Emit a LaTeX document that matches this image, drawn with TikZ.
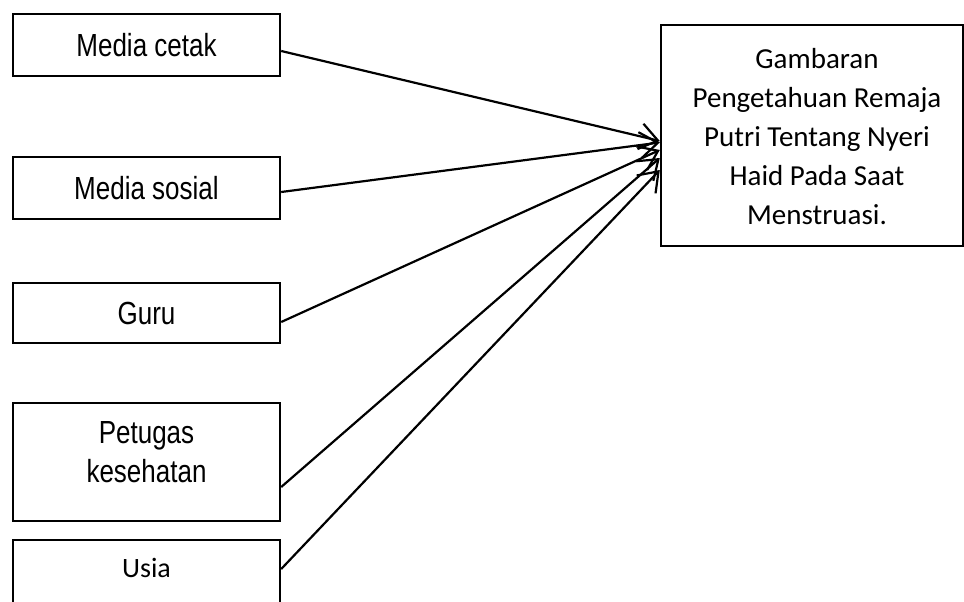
\documentclass[tikz,border=0pt]{standalone}
\usepackage{fontspec}
\setmainfont{Liberation Sans}
\newfontfamily\calib{Carlito}
\usetikzlibrary{arrows.meta}
\newcommand{\arialtall}[1]{\scalebox{1}[1.23]{#1}}
\begin{document}
\begin{tikzpicture}[x=1pt,y=-1pt,
  box/.style={draw, line width=2.4pt, rectangle, minimum width=267pt, inner sep=0pt},
  atxt/.style={font=\fontsize{26}{32.5}\selectfont, align=center, inner sep=0pt},
  ctxt/.style={font=\calib\fontsize{29}{39}\selectfont, align=center, inner sep=0pt},
  conn/.style={line width=2.2pt, -{Straight Barb[length=18pt,width=26pt]}}]
\useasboundingbox (0,0) rectangle (964,602);
\clip (0,0) rectangle (964,602);

\node[box, minimum height=62pt, atxt] (b1) at (146.5,45) {\arialtall{Media cetak}};
\node[box, minimum height=62pt, atxt] (b2) at (146.5,188) {\arialtall{Media sosial}};
\node[box, minimum height=60pt, atxt] (b3) at (146.5,313) {\arialtall{Guru}};
\node[box, minimum height=118pt] (b4) at (146.5,462) {};
\node[atxt] (b4t) at (146.5,455) {\arialtall{\begin{tabular}{@{}c@{}}Petugas\\kesehatan\end{tabular}}};
\node[box, minimum height=118pt] (b5) at (146.5,599) {};
\node[font=\calib\fontsize{28}{34}\selectfont, inner sep=0pt] (b5t) at (146.5,568) {Usia};

\node[draw, line width=2.4pt, minimum width=302pt, minimum height=221pt, inner sep=0pt] (t) at (812,135.5) {};
\node[ctxt] (tt) at (817,136.5) {Gambaran\\Pengetahuan Remaja\\Putri Tentang Nyeri\\Haid Pada Saat\\Menstruasi.};

\draw[conn] ([yshift=-6pt]b1.east) -- ([yshift=-5.5pt]t.west);
\draw[conn] ([yshift=-4pt]b2.east) -- ([yshift=-7pt]t.west);
\draw[conn] ([yshift=-9pt]b3.east) -- ([yshift=-14.5pt]t.west);
\draw[conn] ([yshift=-25pt]b4.east) -- ([yshift=-22.5pt]t.west);
\draw[conn] ([yshift=30pt]b5.east) -- ([yshift=-34.5pt]t.west);
\end{tikzpicture}
\end{document}
